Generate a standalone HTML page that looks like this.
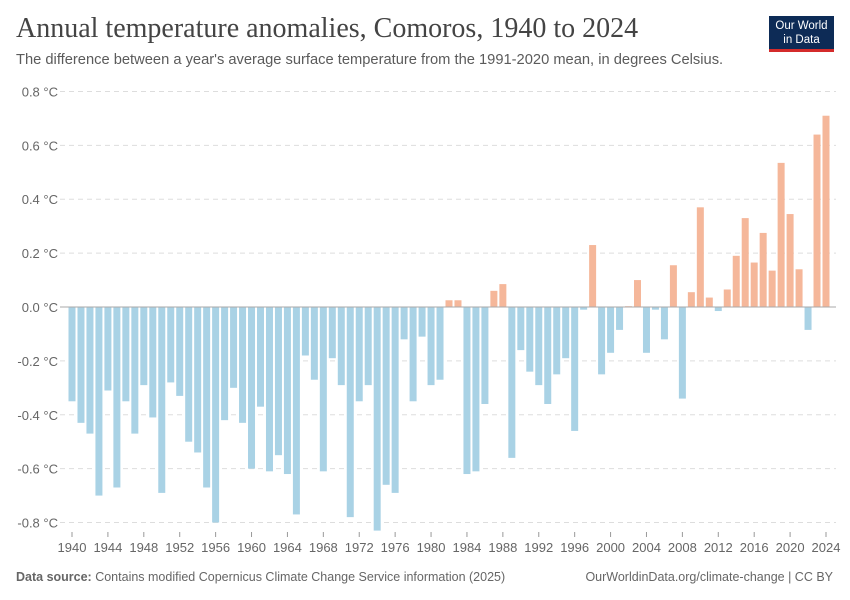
<!DOCTYPE html>
<html><head><meta charset="utf-8"><style>
body{margin:0;background:#fff;font-family:"Liberation Sans",sans-serif;}
#wrap{position:relative;width:850px;height:600px;overflow:hidden;}
h1{position:absolute;left:16px;top:13px;margin:0;font-family:"Liberation Serif",serif;font-weight:normal;font-size:28px;color:#444;}
.sub{position:absolute;left:16px;top:52px;font-size:14.7px;color:#5b5b5b;}
.logo{position:absolute;left:769px;top:16px;width:65px;height:36px;background:#0d2b56;color:#fff;font-size:11.5px;text-align:center;line-height:14px;padding-top:3px;box-sizing:border-box;border-bottom:3px solid #d42b2b;}
.foot{position:absolute;top:570px;font-size:12.5px;color:#666;}
</style></head><body><div id="wrap">
<h1>Annual temperature anomalies, Comoros, 1940 to 2024</h1>
<div class="sub">The difference between a year's average surface temperature from the 1991-2020 mean, in degrees Celsius.</div>
<div class="logo">Our World<br>in Data</div>
<svg id="chart" width="850" height="600" style="position:absolute;left:0;top:0"></svg>
<div class="foot" style="left:16px"><b>Data source:</b> Contains modified Copernicus Climate Change Service information (2025)</div>
<div class="foot" style="right:17px">OurWorldinData.org/climate-change | CC BY</div>
</div>
<script>
const years=[];for(let y=1940;y<=2024;y++)years.push(y);
const values=[-0.35,-0.43,-0.47,-0.70,-0.31,-0.67,-0.35,-0.47,-0.29,-0.41,-0.69,-0.28,-0.33,-0.50,-0.54,-0.67,-0.80,-0.42,-0.30,-0.43,-0.60,-0.37,-0.61,-0.55,-0.62,-0.77,-0.18,-0.27,-0.61,-0.19,-0.29,-0.78,-0.35,-0.29,-0.83,-0.66,-0.69,-0.12,-0.35,-0.11,-0.29,-0.27,0.025,0.025,-0.62,-0.61,-0.36,0.06,0.085,-0.56,-0.16,-0.24,-0.29,-0.36,-0.25,-0.19,-0.46,-0.01,0.23,-0.25,-0.17,-0.085,0.003,0.10,-0.17,-0.01,-0.12,0.155,-0.34,0.055,0.37,0.035,-0.015,0.065,0.19,0.33,0.165,0.275,0.135,0.535,0.345,0.14,-0.085,0.64,0.71];
const yTicks=[0.8,0.6,0.4,0.2,0,-0.2,-0.4,-0.6,-0.8];
const xTicks=[1940,1944,1948,1952,1956,1960,1964,1968,1972,1976,1980,1984,1988,1992,1996,2000,2004,2008,2012,2016,2020,2024];
const svg=document.getElementById('chart');const NS='http://www.w3.org/2000/svg';
const X=y=>72+(y-1940)*(754/84);const Y=v=>307-v*269.4;
function mk(t,a){const e=document.createElementNS(NS,t);for(const k in a)e.setAttribute(k,a[k]);svg.appendChild(e);return e;}
yTicks.forEach(v=>{
 if(v!==0){const l=mk('line',{x1:60,x2:836,y1:Y(v),y2:Y(v),stroke:'#ddd','stroke-dasharray':'5,4'});
 
 }
 const t=mk('text',{x:58,y:Y(v)+5,'text-anchor':'end','font-size':13,fill:'#666','font-family':'Liberation Sans'});
 t.textContent=(v<0?'-':'')+Math.abs(v).toFixed(1)+' °C';
 
 
});
years.forEach((yr,i)=>{const v=values[i];
 const r=mk('rect',{x:X(yr)-3.5,width:7,y:Math.min(Y(v),Y(0)),height:Math.abs(Y(v)-Y(0)),fill:v>=0?'#f5b79a':'#a9d2e5'});
 
 
});
const z=mk('line',{x1:60,x2:836,y1:Y(0),y2:Y(0),stroke:'#aaa'});


xTicks.forEach(yr=>{
 const tk=mk('line',{x1:X(yr),x2:X(yr),y1:532,y2:537,stroke:'#999'});
 
 
 const t=mk('text',{x:X(yr),y:552,'text-anchor':'middle','font-size':13,fill:'#666','font-family':'Liberation Sans'});
 t.textContent=yr;
 
 
});
</script></body></html>
